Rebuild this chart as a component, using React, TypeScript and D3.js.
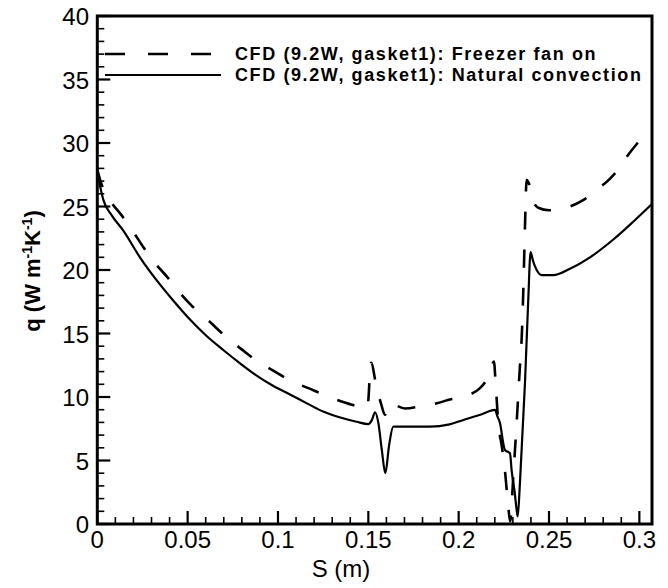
import React from "react";
import * as d3 from "d3";

// ---- data ----
const sFan = [0, 0.002, 0.007, 0.0135, 0.0199, 0.0255, 0.031, 0.0384, 0.0457, 0.0522, 0.0624, 0.0707, 0.0799, 0.0882, 0.0983, 0.1066, 0.1168, 0.125, 0.1352, 0.1435, 0.1495, 0.1515, 0.1545, 0.157, 0.1592, 0.1618, 0.1703, 0.18, 0.188, 0.194, 0.2018, 0.2118, 0.2173, 0.2195, 0.2205, 0.2219, 0.224, 0.2256, 0.2275, 0.2285, 0.2302, 0.2321, 0.2339, 0.2349, 0.2358, 0.2367, 0.2376, 0.2386, 0.2398, 0.2417, 0.244, 0.25, 0.256, 0.2616, 0.2689, 0.2773, 0.2838, 0.2893, 0.293, 0.299, 0.307];
const qFan = [27.9, 26.9, 25.5, 24.3, 23.0, 21.8, 20.7, 19.5, 18.2, 17.2, 15.9, 14.8, 13.75, 12.85, 12.0, 11.3, 10.7, 10.2, 9.65, 9.3, 9.15, 12.7, 10.8, 9.5, 8.6, 9.5, 9.1, 9.3, 9.5, 9.76, 10.0, 10.7, 11.9, 12.8, 11.0, 8.0, 6.0, 4.2, 1.3, 0.2, 3.7, 8.0, 12.4, 14.7, 18.5, 23.4, 27.1, 26.9, 26.4, 25.3, 24.9, 24.7, 24.8, 25.0, 25.5, 26.4, 27.2, 28.1, 28.9, 30.0, 31.2];

const sNat = [0, 0.001, 0.0034, 0.008, 0.0144, 0.0236, 0.0328, 0.042, 0.0513, 0.0605, 0.0697, 0.079, 0.088, 0.097, 0.1066, 0.116, 0.125, 0.134, 0.1435, 0.15, 0.152, 0.1537, 0.1555, 0.1575, 0.1594, 0.1615, 0.1638, 0.17, 0.1841, 0.195, 0.2026, 0.212, 0.2201, 0.2215, 0.2229, 0.2247, 0.2256, 0.2284, 0.2293, 0.231, 0.2321, 0.2327, 0.2339, 0.2367, 0.2385, 0.2398, 0.241, 0.2422, 0.246, 0.2524, 0.2616, 0.2727, 0.2856, 0.2966, 0.307];
const qNat = [27.8, 27.0, 25.5, 24.3, 23.1, 21.0, 19.2, 17.6, 16.1, 14.8, 13.7, 12.65, 11.7, 10.9, 10.2, 9.5, 8.85, 8.4, 8.05, 7.87, 8.2, 8.8, 8.0, 5.8, 4.0, 6.2, 7.66, 7.66, 7.66, 7.85, 8.19, 8.6, 8.98, 8.45, 7.93, 6.35, 5.83, 5.57, 4.25, 2.5, 1.1, 0.6, 3.2, 11.1, 17.6, 21.4, 20.8, 20.3, 19.6, 19.6, 20.1, 21.0, 22.4, 23.8, 25.2];

const xMajor = [0, 0.05, 0.1, 0.15, 0.2, 0.25, 0.3];
const xLabels = ["0", "0.05", "0.1", "0.15", "0.2", "0.25", "0.3"];
const yMajor = [0, 5, 10, 15, 20, 25, 30, 35, 40];
const yLabels = ["0", "5", "10", "15", "20", "25", "30", "35", "40"];
const legendLabels = ["CFD (9.2W, gasket1): Freezer fan on", "CFD (9.2W, gasket1): Natural convection"];

const W = 668, H = 588;
const L = 97.3, R = 652, T = 16, B = 524;
const FONT = "'Liberation Sans', Arial, Helvetica, sans-serif";

export default function App() {
  const x = d3.scaleLinear().domain([0, 0.307]).range([L, R]);
  const y = d3.scaleLinear().domain([0, 40]).range([B, T]);
  const mk = d3.line<[number, number]>().x(d => x(d[0])).y(d => y(d[1])).curve(d3.curveMonotoneX);
  const fanPath = mk(sFan.map((s, i) => [s, qFan[i]] as [number, number]));
  const natPath = mk(sNat.map((s, i) => [s, qNat[i]] as [number, number]));
  const xMinor = d3.range(0, 0.3051, 0.01).filter(v => xMajor.every(m => Math.abs(m - v) > 1e-6));
  const yMinor = d3.range(0, 40.01, 1).filter(v => v % 5 !== 0);

  return (
    <svg width={W} height={H} style={{ position: "absolute", left: 0, top: 0, background: "#fff" }} fontFamily={FONT}>
      <rect x={0} y={0} width={W} height={H} fill="#fff" />
      {/* curves */}
      <path d={fanPath || ""} fill="none" stroke="#000" strokeWidth={2.6} strokeDasharray="18,20" />
      <path d={natPath || ""} fill="none" stroke="#000" strokeWidth={2.2} />
      {/* ticks */}
      {xMajor.map(v => <line key={"xM" + v} x1={x(v)} x2={x(v)} y1={B} y2={B - 13} stroke="#000" strokeWidth={2.2} />)}
      {xMinor.map(v => <line key={"xm" + v} x1={x(v)} x2={x(v)} y1={B} y2={B - 7} stroke="#000" strokeWidth={1.6} />)}
      {yMajor.map(v => <line key={"yM" + v} x1={L} x2={L + 13} y1={y(v)} y2={y(v)} stroke="#000" strokeWidth={2.2} />)}
      {yMinor.map(v => <line key={"ym" + v} x1={L} x2={L + 7} y1={y(v)} y2={y(v)} stroke="#000" strokeWidth={1.6} />)}
      {/* frame */}
      <rect x={L} y={T} width={R - L} height={B - T} fill="none" stroke="#000" strokeWidth={3} />
      {/* tick labels */}
      {xMajor.map((v, i) => (
        <text key={"xl" + v} x={x(v)} y={548} textAnchor="middle" fontSize={24}>{xLabels[i]}</text>
      ))}
      {yMajor.map((v, i) => (
        <text key={"yl" + v} x={89} y={y(v) + 9} textAnchor="end" fontSize={24}>{yLabels[i]}</text>
      ))}
      {/* axis titles */}
      <text x={341} y={577} textAnchor="middle" fontSize={24}>S (m)</text>
      <text transform={`translate(40,271) rotate(-90)`} textAnchor="middle" fontSize={22} fontWeight="bold">
        q (W m<tspan dy={-8} fontSize={14}>-1</tspan><tspan dy={8}>K</tspan><tspan dy={-8} fontSize={14}>-1</tspan><tspan dy={8}>)</tspan>
      </text>
      {/* legend */}
      <line x1={105} x2={212} y1={54} y2={54} stroke="#000" strokeWidth={2.6} strokeDasharray="20,23" />
      <line x1={105} x2={221} y1={75} y2={75} stroke="#000" strokeWidth={2.2} />
      <text x={235} y={60} fontSize={18} fontWeight="bold" letterSpacing={1.6}>{legendLabels[0]}</text>
      <text x={235} y={81} fontSize={18} fontWeight="bold" letterSpacing={1.6}>{legendLabels[1]}</text>
    </svg>
  );
}
